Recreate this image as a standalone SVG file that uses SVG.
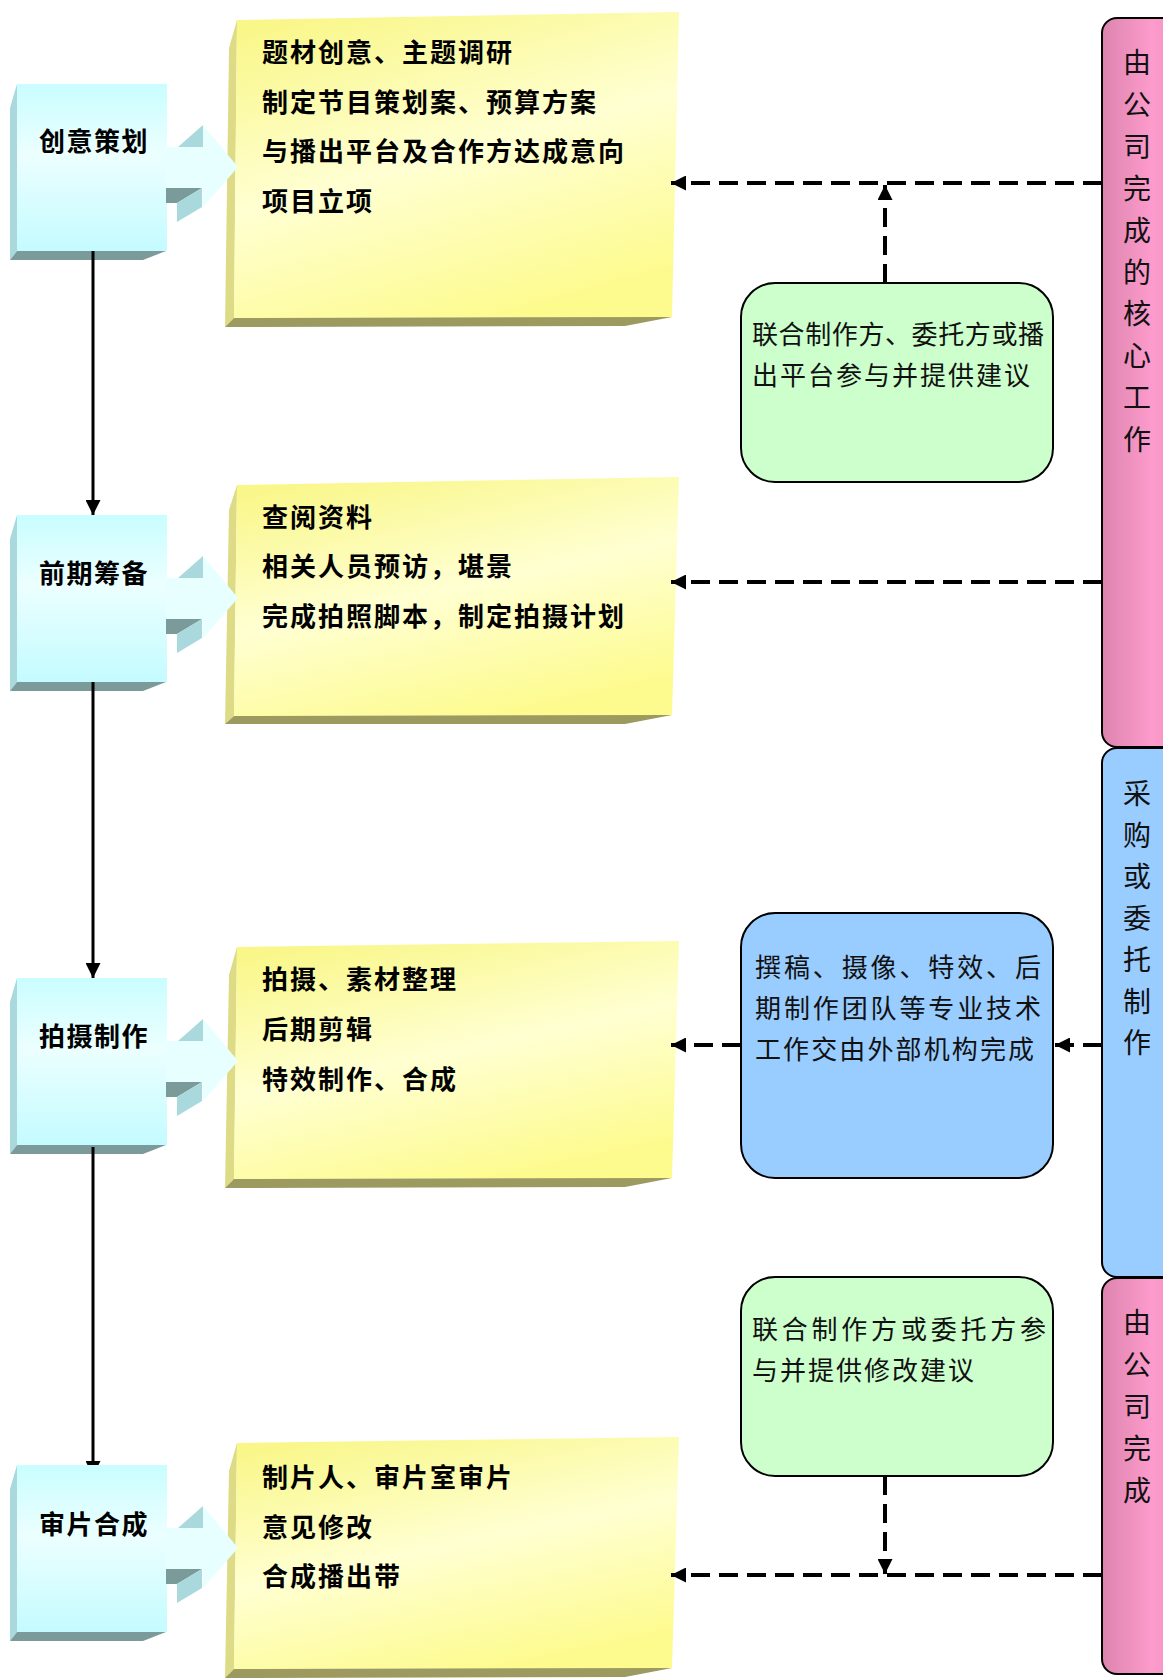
<svg xmlns="http://www.w3.org/2000/svg" width="1163" height="1680" viewBox="0 0 1163 1680">
<defs>
  <linearGradient id="yg" x1="0.2" y1="0" x2="0.6" y2="1">
    <stop offset="0" stop-color="#f9f78a"/>
    <stop offset="0.5" stop-color="#ffffd2"/>
    <stop offset="1" stop-color="#fdfb8e"/>
  </linearGradient>
  <linearGradient id="cg" x1="0" y1="0" x2="0" y2="1">
    <stop offset="0" stop-color="#c9fdff"/>
    <stop offset="0.42" stop-color="#ecffff"/>
    <stop offset="1" stop-color="#c4fbff"/>
  </linearGradient>
  <linearGradient id="pg" x1="0" y1="0" x2="1" y2="0">
    <stop offset="0" stop-color="#dc84ae"/>
    <stop offset="0.55" stop-color="#fd9bcc"/>
    <stop offset="1" stop-color="#ee8fbf"/>
  </linearGradient>
  <marker id="ah" viewBox="0 0 15 15" refX="15" refY="7.5" markerWidth="15" markerHeight="15" markerUnits="userSpaceOnUse" orient="auto">
    <path d="M0,0 L15,7.5 L0,15 z" fill="#000"/>
  </marker>
  <g id="cyanShape">
    <polygon class="cside" points="10,24 17,0 17,167 10,176"/>
    <rect x="17" y="0" width="150" height="167" fill="url(#cg)"/>
    <polygon class="cdark" points="17,167 166,167 143,176 10,176"/>
    <polygon class="carrow" points="166,63 203,63 203,41 238,83 203,123 203,104 166,104"/>
    <polygon class="cside" points="178,63 203,41 203,63"/>
    <polygon class="cdark" points="166,104 202,104 177,119 166,119"/>
    <polygon class="cside" points="177,119 202,104 202,123 177,138"/>
  </g>
</defs>
<style>
  .cside { fill: #a9d9dc; }
  .cdark { fill: #7b9b9b; }
  .carrow { fill: #e8ffff; }
  .yfront { fill: url(#yg); }
  .yside { fill: #dedb86; }
  .ybottom { fill: #9c9a5e; }
  .ltxt { font-family: "Noto Sans CJK SC", sans-serif; font-weight: 700; font-size: 26px; letter-spacing: 2px; fill: #000; }
  .ctxt { font-family: "Noto Sans CJK SC", sans-serif; font-weight: 700; font-size: 26px; letter-spacing: 1.5px; fill: #000; }
  .rtxt { font-family: "Liberation Serif", "Noto Sans CJK SC", serif; font-weight: 400; font-size: 26px; fill: #111; }
  .vtxt { font-family: "Liberation Serif", "Noto Sans CJK SC", serif; font-weight: 400; font-size: 28px; fill: #111; text-anchor: middle; }
  .rbox { stroke: #000; stroke-width: 2; }
  .dash { fill: none; stroke: #000; stroke-width: 4; stroke-dasharray: 19 9; marker-end: url(#ah); }
  .solid { fill: none; stroke: #000; stroke-width: 3; marker-end: url(#ah); }
</style>
<rect width="1163" height="1680" fill="#fff"/>

<!-- right side panels -->
<g id="panel-core">
  <rect x="1102" y="18" width="90" height="729" rx="15" fill="url(#pg)" stroke="#000" stroke-width="2"/>
  <text class="vtxt"><tspan x="1137" y="73">由</tspan><tspan x="1137" dy="41.9">公</tspan><tspan x="1137" dy="41.9">司</tspan><tspan x="1137" dy="41.9">完</tspan><tspan x="1137" dy="41.9">成</tspan><tspan x="1137" dy="41.9">的</tspan><tspan x="1137" dy="41.9">核</tspan><tspan x="1137" dy="41.9">心</tspan><tspan x="1137" dy="41.9">工</tspan><tspan x="1137" dy="41.9">作</tspan></text>
</g>
<g id="panel-outsource">
  <rect x="1102" y="748" width="90" height="529" rx="15" fill="#99ccff" stroke="#000" stroke-width="2"/>
  <text class="vtxt"><tspan x="1137" y="804">采</tspan><tspan x="1137" dy="41.5">购</tspan><tspan x="1137" dy="41.5">或</tspan><tspan x="1137" dy="41.5">委</tspan><tspan x="1137" dy="41.5">托</tspan><tspan x="1137" dy="41.5">制</tspan><tspan x="1137" dy="41.5">作</tspan></text>
</g>
<g id="panel-company">
  <rect x="1102" y="1278" width="90" height="396" rx="15" fill="url(#pg)" stroke="#000" stroke-width="2"/>
  <text class="vtxt"><tspan x="1137" y="1333">由</tspan><tspan x="1137" dy="42">公</tspan><tspan x="1137" dy="42">司</tspan><tspan x="1137" dy="42">完</tspan><tspan x="1137" dy="42">成</tspan></text>
</g>

<!-- middle rounded boxes -->
<g id="note-advice1">
  <rect class="rbox" x="741" y="283" width="312" height="199" rx="34" fill="#ccffcc"/>
  <text class="rtxt" x="752" y="344" textLength="292">联合制作方、委托方或播</text>
  <text class="rtxt" x="752" y="385" textLength="278">出平台参与并提供建议</text>
</g>
<g id="note-outsource">
  <rect class="rbox" x="741" y="913" width="312" height="265" rx="34" fill="#99ccff"/>
  <text class="rtxt" x="755" y="977" textLength="286">撰稿、摄像、特效、后</text>
  <text class="rtxt" x="755" y="1018" textLength="286">期制作团队等专业技术</text>
  <text class="rtxt" x="755" y="1059" textLength="279">工作交由外部机构完成</text>
</g>
<g id="note-advice2">
  <rect class="rbox" x="741" y="1277" width="312" height="199" rx="34" fill="#ccffcc"/>
  <text class="rtxt" x="752" y="1339" textLength="294">联合制作方或委托方参</text>
  <text class="rtxt" x="752" y="1380" textLength="222">与并提供修改建议</text>
</g>

<!-- yellow detail boxes -->
<g id="detail-1">
  <polygon class="yside" points="229,48 237,20 234,318 225,327"/>
  <polygon class="yfront" points="237,20 679,12 672,317 234,318"/>
  <polygon class="ybottom" points="234,318 672,317 625,326 225,327"/>
  <text class="ltxt" x="262" y="62">题材创意、主题调研</text>
  <text class="ltxt" x="262" y="112">制定节目策划案、预算方案</text>
  <text class="ltxt" x="262" y="161">与播出平台及合作方达成意向</text>
  <text class="ltxt" x="262" y="211">项目立项</text>
</g>
<g id="detail-2">
  <polygon class="yside" points="229,510 237,485 234,716 225,724"/>
  <polygon class="yfront" points="237,485 679,477 672,715 234,716"/>
  <polygon class="ybottom" points="234,716 672,715 625,724 225,724"/>
  <text class="ltxt" x="262" y="527">查阅资料</text>
  <text class="ltxt" x="262" y="576">相关人员预访，堪景</text>
  <text class="ltxt" x="262" y="626">完成拍照脚本，制定拍摄计划</text>
</g>
<g id="detail-3">
  <polygon class="yside" points="229,975 237,947 234,1179 225,1188"/>
  <polygon class="yfront" points="237,947 679,941 672,1178 234,1179"/>
  <polygon class="ybottom" points="234,1179 672,1178 625,1187 225,1188"/>
  <text class="ltxt" x="262" y="989">拍摄、素材整理</text>
  <text class="ltxt" x="262" y="1039">后期剪辑</text>
  <text class="ltxt" x="262" y="1089">特效制作、合成</text>
</g>
<g id="detail-4">
  <polygon class="yside" points="229,1471 237,1443 234,1669 225,1678"/>
  <polygon class="yfront" points="237,1443 679,1437 672,1668 234,1669"/>
  <polygon class="ybottom" points="234,1669 672,1668 625,1677 225,1678"/>
  <text class="ltxt" x="262" y="1487">制片人、审片室审片</text>
  <text class="ltxt" x="262" y="1537">意见修改</text>
  <text class="ltxt" x="262" y="1586">合成播出带</text>
</g>

<!-- stage nodes -->
<g id="stage-1">
  <use href="#cyanShape" transform="translate(0,84)"/>
  <text class="ctxt" x="39" y="151">创意策划</text>
</g>
<g id="stage-2">
  <use href="#cyanShape" transform="translate(0,515)"/>
  <text class="ctxt" x="39" y="583">前期筹备</text>
</g>
<g id="stage-3">
  <use href="#cyanShape" transform="translate(0,978)"/>
  <text class="ctxt" x="39" y="1046">拍摄制作</text>
</g>

<g id="connectors">
  <path class="solid" d="M93,251 L93,515"/>
  <path class="solid" d="M93,682 L93,978"/>
  <path class="solid" d="M93,1147 L93,1476"/>
  <path class="dash" d="M1102,183 L671,183"/>
  <path class="dash" d="M885,283 L885,185"/>
  <path class="dash" d="M1102,582 L671,582"/>
  <path class="dash" d="M741,1045 L671,1045"/>
  <path class="dash" d="M1102,1045 L1055,1045"/>
  <path class="dash" d="M885,1476 L885,1574"/>
  <path class="dash" d="M1102,1575 L671,1575"/>
</g>

<g id="stage-4">
  <use href="#cyanShape" transform="translate(0,1465)"/>
  <text class="ctxt" x="39" y="1534">审片合成</text>
</g>
</svg>
